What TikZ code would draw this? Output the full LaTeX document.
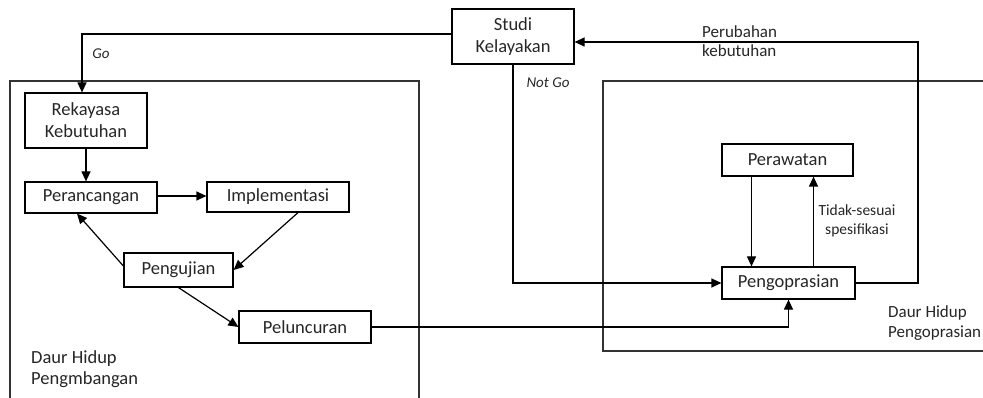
\documentclass[tikz,border=0pt]{standalone}
\usepackage{fontspec}
\setmainfont{Carlito}
\usetikzlibrary{arrows.meta}
\begin{document}
\begin{tikzpicture}[x=1pt,y=-1pt,
  box/.style={draw,line width=1.2pt,inner sep=0pt,font=\fontsize{18.5}{22}\selectfont,align=center,text=black!85},
  arr/.style={line width=1.2pt,-{Triangle[length=10pt,width=9pt]}},
  frame/.style={line width=1.2pt,draw=black!80},
  lbl/.style={font=\fontsize{15.5}{19}\selectfont,text=black!85,inner sep=0pt},
  it/.style={font=\fontsize{15}{18}\selectfont\itshape,text=black!85,inner sep=0pt}]
\useasboundingbox (0,0) rectangle (983,398);
% frames
\draw[frame] (10,405) -- (10,81) -- (419,81) -- (419,405);
\draw[frame] (990,81) -- (603,81) -- (603,351) -- (990,351);
% boxes
\node[box,minimum width=122pt,minimum height=55pt] (studi) at (513,36.5) {Studi\\Kelayakan};
\node[box,minimum width=122pt,minimum height=55pt] (rek) at (86,120.5) {Rekayasa\\Kebutuhan};
\node[box,minimum width=132pt,minimum height=31pt] (peranc) at (91,197.5) {Perancangan};
\node[box,minimum width=142pt,minimum height=30pt] (impl) at (278,197) {Implementasi};
\node[box,minimum width=109pt,minimum height=34pt] (uji) at (178.5,270) {Pengujian};
\node[box,minimum width=132pt,minimum height=32pt] (lun) at (305,327) {Peluncuran};
\node[box,minimum width=131pt,minimum height=32pt] (raw) at (787.5,160) {Perawatan};
\node[box,minimum width=133pt,minimum height=32pt] (op) at (788.5,283) {Pengoprasian};
% connectors
\draw[arr] (studi.west |- 0,34) -| ([xshift=-4pt]rek.north);
\draw[arr] (rek.south) -- (rek.south |- peranc.north);
\draw[arr] (peranc.east |- 0,196) -- (impl.west |- 0,196);
\draw[arr] ([xshift=20pt]impl.south) -- (uji.east);
\draw[arr] ([yshift=4pt]uji.west) -- ([xshift=-14pt]peranc.south);
\draw[arr] (uji.south) -- (lun.west);
\draw[arr] (lun.east) -| (op.south);
\draw[arr] (studi.south) |- (op.west);
\draw[arr] ([xshift=-36pt]raw.south) -- ([xshift=-36pt]raw.south |- op.north);
\draw[arr] ([xshift=25pt]op.north) -- ([xshift=25pt]op.north |- raw.south);
\coordinate (c1) at (918,42);
\draw[arr] (op.east) -| (c1) -- (studi.east |- c1);
% labels
\node[it] (go) at (101,54) {Go};
\node[it] (notgo) at (548,83) {Not Go};
\node[lbl,anchor=west,align=left,font=\fontsize{17}{19.5}\selectfont] (perub) at (702,41) {Perubahan\\kebutuhan};
\node[lbl,align=center] (tidak) at (857,221) {Tidak-sesuai\\spesifikasi};
\node[lbl,anchor=west,align=left,font=\fontsize{18.5}{21}\selectfont] (daur1) at (31,369) {Daur Hidup\\Pengmbangan};
\node[lbl,anchor=west,align=left,font=\fontsize{17}{20}\selectfont] (daur2) at (888,323) {Daur Hidup\\Pengoprasian};
\end{tikzpicture}
\end{document}
